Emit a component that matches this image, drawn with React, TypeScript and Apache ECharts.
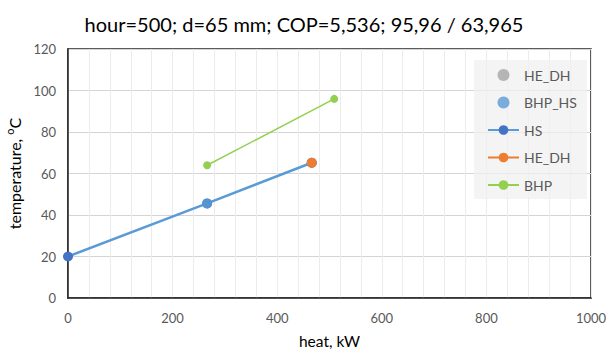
import React, { useEffect, useRef } from "react";
import * as echarts from "echarts";

const titleText = "hour=500; d=65 mm; COP=5,536; 95,96 / 63,965";
const xTicks = [0, 200, 400, 600, 800, 1000];
const yTicks = [0, 20, 40, 60, 80, 100, 120];
const heDhScatter: number[][] = [[466, 65.2]];
const bhpHsScatter: number[][] = [[266, 45.6]];
const hsLine: number[][] = [[0, 20], [266, 45.6], [466, 65.2]];
const heDhLine: number[][] = [[466, 65.2]];
const bhpLine: number[][] = [[266, 63.965], [509, 95.96]];

const FONT = "Lato, 'Open Sans', sans-serif";

export default function App() {
  const ref = useRef<HTMLDivElement>(null);
  useEffect(() => {
    if (!ref.current) return;
    const chart = echarts.init(ref.current, undefined, { renderer: "svg" });
    chart.setOption({
      animation: false,
      backgroundColor: "#ffffff",
      textStyle: { fontFamily: FONT },
      title: {
        text: titleText,
        left: "center",
        top: 9,
        textStyle: { fontFamily: FONT, fontSize: 20, fontWeight: "normal", color: "#000" },
      },
      grid: {
        left: 68,
        right: 17,
        top: 49,
        bottom: 51,
        show: true,
        borderColor: "#262626",
        borderWidth: 1.5,
        outerBoundsMode: "none",
        containLabel: false,
      },
      legend: {
        orient: "vertical",
        left: 474,
        top: 60,
        padding: [8, 10, 7, 13],
        backgroundColor: "rgba(240,240,240,0.75)",
        itemWidth: 31,
        itemHeight: 12,
        itemGap: 13.5,
        textStyle: { fontFamily: FONT, fontSize: 14, color: "#595959" },
        formatter: (n: string) => n.trim(),
        data: ["HE_DH", "BHP_HS", "HS", "HE_DH ", "BHP"],
      },
      xAxis: {
        type: "value",
        min: xTicks[0],
        max: xTicks[xTicks.length - 1],
        interval: 200,
        name: "heat, kW",
        nameLocation: "middle",
        nameGap: 35,
        nameTextStyle: { fontFamily: FONT, fontSize: 15.5, color: "#000" },
        axisLine: { show: true, lineStyle: { color: "#262626", width: 1.5 } },
        axisTick: { show: false },
        minorTick: { show: false, splitNumber: 5 },
        axisLabel: { fontFamily: FONT, fontSize: 13, color: "#595959", margin: 13, formatter: (v: number) => String(v) },
        splitLine: { show: true, lineStyle: { color: "#ececec", width: 1 } },
        minorSplitLine: { show: true, lineStyle: { color: "#ececec", width: 1 } },
      },
      yAxis: {
        type: "value",
        min: yTicks[0],
        max: yTicks[yTicks.length - 1],
        interval: 20,
        name: "temperature, {sup|o}C",
        nameLocation: "middle",
        nameGap: 43,
        nameTextStyle: {
          fontFamily: FONT,
          fontSize: 16,
          color: "#000",
          rich: {
            sup: { fontFamily: FONT, fontSize: 11, color: "#000", padding: [0, 0, 9, 0] },
          },
        },
        axisLine: { show: true, lineStyle: { color: "#262626", width: 1.5 } },
        axisTick: { show: false },
        axisLabel: { fontFamily: FONT, fontSize: 13, color: "#595959", margin: 12 },
        splitLine: { show: true, lineStyle: { color: "#d4d4d4", width: 1 } },
      },
      series: [
        {
          name: "HE_DH",
          type: "scatter",
          data: heDhScatter,
          symbolSize: 10,
          itemStyle: { color: "#A5A5A5" },
          z: 2,
        },
        {
          name: "HS",
          type: "line",
          data: hsLine,
          symbol: "circle",
          symbolSize: 10,
          showAllSymbol: true,
          lineStyle: { color: "#5B9BD5", width: 2.5 },
          itemStyle: { color: "#4472C4" },
          z: 3,
        },
        {
          name: "BHP_HS",
          type: "scatter",
          data: bhpHsScatter,
          symbolSize: 10,
          itemStyle: { color: "#5B9BD5" },
          z: 4,
        },
        {
          name: "HE_DH ",
          type: "line",
          data: heDhLine,
          symbol: "circle",
          symbolSize: 10,
          lineStyle: { color: "#ED7D31", width: 2.5 },
          itemStyle: { color: "#ED7D31" },
          z: 5,
        },
        {
          name: "BHP",
          type: "line",
          data: bhpLine,
          symbol: "circle",
          symbolSize: 8,
          lineStyle: { color: "#92D050", width: 1.5 },
          itemStyle: { color: "#92D050" },
          z: 5,
        },
      ],
    });
    return () => chart.dispose();
  }, []);
  return <div ref={ref} style={{ width: 608, height: 349, position: "absolute", left: 0, top: 0 }} />;
}
